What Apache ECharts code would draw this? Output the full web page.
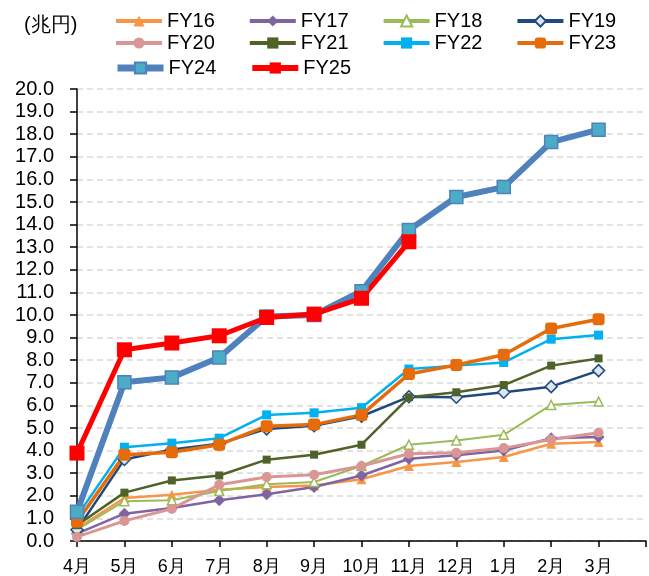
<!DOCTYPE html>
<html>
<head>
<meta charset="utf-8">
<script src="https://cdn.jsdelivr.net/npm/echarts@6/dist/echarts.min.js"></script>
<style>
  html, body { margin: 0; padding: 0; background: #fff; }
  #chart { width: 649px; height: 576px; }
</style>
</head>
<body>
<div id="chart"></div>
<script>
// 月 (the last empty slot keeps the axis running one step past 3月)
const months = ["4月", "5月", "6月", "7月", "8月", "9月", "10月", "11月", "12月", "1月", "2月", "3月", ""];
const yTicks = [0, 20, 1];

const fy16 = [0.55, 1.9, 2.05, 2.27, 2.39, 2.46, 2.73, 3.32, 3.5, 3.72, 4.3, 4.38];
const fy17 = [0.33, 1.21, 1.46, 1.8, 2.07, 2.39, 2.9, 3.64, 3.79, 4.0, 4.55, 4.6];
const fy18 = [0.5, 1.76, 1.8, 2.21, 2.51, 2.61, 3.32, 4.26, 4.45, 4.7, 6.02, 6.17];
const fy19 = [0.5, 3.61, 4.05, 4.3, 4.96, 5.1, 5.52, 6.38, 6.36, 6.58, 6.83, 7.54];
const fy20 = [0.18, 0.89, 1.43, 2.49, 2.83, 2.93, 3.32, 3.86, 3.9, 4.11, 4.49, 4.79];
const fy21 = [0.7, 2.14, 2.68, 2.9, 3.6, 3.82, 4.26, 6.36, 6.58, 6.9, 7.76, 8.08];
const fy22 = [1.1, 4.15, 4.33, 4.55, 5.58, 5.67, 5.9, 7.61, 7.76, 7.9, 8.93, 9.11];
const fy23 = [0.85, 3.82, 3.93, 4.26, 5.08, 5.15, 5.58, 7.39, 7.79, 8.24, 9.4, 9.81];
const fy24 = [1.29, 7.02, 7.24, 8.12, 9.93, 10.0, 11.05, 13.76, 15.22, 15.66, 17.65, 18.2];
const fy25 = [3.89, 8.46, 8.76, 9.08, 9.89, 10.04, 10.74, 13.24];

const FONT = "Liberation Sans, Arial, sans-serif";

function line(name, data, color, width, symbol, size, markerFill, markerBorder) {
  return {
    name: name,
    type: "line",
    data: data,
    symbol: symbol,
    symbolSize: size,
    showSymbol: true,
    lineStyle: { color: color, width: width },
    itemStyle: {
      color: markerFill || color,
      borderColor: markerBorder || markerFill || color,
      borderWidth: markerBorder ? 1.5 : 0
    },
    emphasis: { disabled: true },
    animation: false
  };
}

const series = [
  line("FY16", fy16, "#F79646", 2.5, "triangle", 10),
  line("FY17", fy17, "#8064A2", 2.5, "diamond", 12),
  line("FY18", fy18, "#9BBB59", 2, "triangle", 9, "#ffffff", "#9BBB59"),
  line("FY19", fy19, "#1F497D", 2.5, "diamond", 12, "#DCE6F2", "#1F497D"),
  line("FY20", fy20, "#D99694", 3, "circle", 10),
  line("FY21", fy21, "#4F6228", 2.5, "rect", 8),
  line("FY22", fy22, "#00B0F0", 2.5, "rect", 9),
  line("FY23", fy23, "#E46C0A", 3.5, "roundRect", 12),
  line("FY24", fy24, "#4F81BD", 6, "rect", 13, "#4BACC6", "#4F81BD"),
  line("FY25", fy25, "#FF0000", 5, "rect", 15)
];

// 凡例は4列、行ごとに分ける
function legendRow(names, top) {
  return {
    data: names.map(function (n) {
      const w = n === "FY24" ? 7 : n === "FY25" ? 6 : 4;
      return { name: n, lineStyle: { width: w } };
    }),
    left: 114,
    top: top,
    padding: 0,
    itemWidth: 46,
    itemHeight: 14,
    itemGap: 33,
    textStyle: { fontFamily: FONT, fontSize: 20, color: "#000" },
    selectedMode: false
  };
}

const option = {
  animation: false,
  title: {
    text: "(兆円)",
    left: 24,
    top: 15,
    padding: 0,
    textStyle: { fontFamily: FONT, fontSize: 20, fontWeight: "normal", color: "#000" }
  },
  legend: [
    legendRow(["FY16", "FY17", "FY18", "FY19"], 11),
    legendRow(["FY20", "FY21", "FY22", "FY23"], 33),
    legendRow(["FY24", "FY25"], 58)
  ],
  grid: { left: 77, right: 1, top: 89, bottom: 34, containLabel: false },
  xAxis: {
    type: "category",
    data: months,
    boundaryGap: false,
    axisLine: { lineStyle: { color: "#000", width: 1.5 } },
    axisTick: { show: true, length: 6, lineStyle: { color: "#000", width: 1.5 } },
    axisLabel: { fontFamily: FONT, fontSize: 18, color: "#000", margin: 17, interval: 0 },
    splitLine: { show: false }
  },
  yAxis: {
    type: "value",
    min: yTicks[0],
    max: yTicks[1],
    interval: yTicks[2],
    axisLine: { show: true, lineStyle: { color: "#000", width: 1.5 } },
    axisTick: { show: true, length: 7, lineStyle: { color: "#000", width: 1.5 } },
    axisLabel: {
      fontFamily: FONT, fontSize: 20, color: "#000", margin: 23,
      formatter: function (v) { return v.toFixed(1); }
    },
    splitLine: { show: true, lineStyle: { color: "#D9D9D9", type: [6, 4], width: 1.5 } }
  },
  series: series
};

const myChart = echarts.init(document.getElementById("chart"));
myChart.setOption(option);
</script>
</body>
</html>
